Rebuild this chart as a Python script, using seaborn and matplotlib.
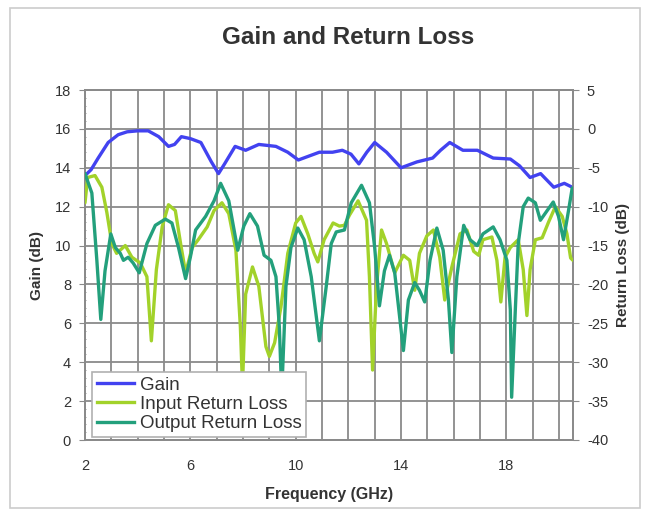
import numpy as np
import pandas as pd
import matplotlib
matplotlib.use("Agg")
import matplotlib.pyplot as plt
from matplotlib.patches import Rectangle
from matplotlib.lines import Line2D
from matplotlib.ticker import MultipleLocator
import seaborn as sns

# ---------------- data ----------------
gain_freq = [2.0, 2.23, 2.5, 2.88, 3.26, 3.6, 4.0, 4.4, 4.8, 5.17, 5.4, 5.66, 6.0, 6.4, 6.8,
             7.07, 7.3, 7.7, 8.1, 8.6, 9.25, 9.7, 10.1, 10.5, 10.9, 11.4, 11.77, 12.1, 12.4,
             12.7, 13.0, 13.45, 14.0, 14.6, 15.2, 15.5, 15.85, 16.35, 16.9, 17.5, 18.15,
             18.5, 18.9, 19.3, 19.8, 20.2, 20.5]
gain_db = [13.6, 13.9, 14.5, 15.3, 15.7, 15.85, 15.9, 15.9, 15.6, 15.1, 15.2, 15.6, 15.5, 15.3, 14.3,
           13.7, 14.2, 15.1, 14.9, 15.2, 15.1, 14.8, 14.4, 14.6, 14.8, 14.8, 14.9, 14.7, 14.2,
           14.8, 15.3, 14.8, 14.0, 14.3, 14.5, 14.9, 15.3, 14.9, 14.9, 14.5, 14.45,
           14.1, 13.5, 13.7, 13.0, 13.2, 13.0]

in_freq = [2.0, 2.1, 2.38, 2.64, 2.83, 3.02, 3.2, 3.53, 3.78, 4.1, 4.35, 4.52, 4.71, 4.93, 5.17,
           5.43, 5.63, 5.82, 6.07, 6.3, 6.64, 6.9, 7.2, 7.46, 7.73, 7.9, 7.98, 8.1, 8.36, 8.6,
           8.87, 9.0, 9.2, 9.44, 9.7, 10.0, 10.2, 10.46, 10.7, 10.84, 11.08, 11.42, 11.66,
           11.85, 12.04, 12.37, 12.69, 12.8, 12.92, 13.07, 13.26, 13.45, 13.76, 14.09, 14.33,
           14.52, 14.7, 14.98, 15.23, 15.47, 15.66, 15.93, 16.24, 16.5, 16.76, 16.95, 17.11,
           17.45, 17.64, 17.79, 17.95, 18.15, 18.45, 18.64, 18.78, 18.9, 19.1, 19.36, 19.6,
           19.86, 20.12, 20.3, 20.44, 20.53]
in_rl = [-9.5, -6.25, -6.0, -7.5, -10.75, -14.75, -16.0, -15.0, -16.5, -17.25, -19.0, -27.25,
         -18.1, -12.6, -9.75, -10.5, -14.75, -18.5, -15.25, -14.25, -12.6, -10.5, -9.5, -10.9,
         -15.6, -25.5, -33.0, -21.25, -17.75, -20.25, -28.0, -29.25, -27.5, -22.9, -16.0,
         -12.1, -11.25, -13.5, -16.0, -17.1, -14.25, -12.1, -12.5, -12.4, -11.1, -9.25,
         -11.75, -19.0, -31.0, -20.25, -13.0, -14.75, -18.5, -16.25, -16.9, -20.75, -16.0,
         -13.75, -13.0, -16.5, -22.0, -17.75, -13.5, -13.0, -15.75, -16.25, -14.25, -13.9,
         -16.9, -22.25, -16.5, -15.25, -14.25, -18.1, -24.0, -18.1, -14.25, -14.0, -12.0,
         -10.0, -11.25, -13.5, -16.6, -16.9]

out_freq = [2.0, 2.26, 2.45, 2.6, 2.76, 2.98, 3.15, 3.34, 3.46, 3.64, 3.83, 4.06, 4.35, 4.67,
            5.05, 5.3, 5.55, 5.82, 6.0, 6.2, 6.58, 6.9, 7.15, 7.46, 7.8, 8.03, 8.26, 8.55, 8.8,
            9.06, 9.25, 9.38, 9.47, 9.63, 9.82, 10.08, 10.32, 10.59, 10.9, 11.16, 11.35,
            11.54, 11.85, 12.11, 12.5, 12.8, 13.0, 13.18, 13.37, 13.56, 13.76, 14.09, 14.28,
            14.52, 14.7, 14.9, 15.1, 15.36, 15.6, 15.8, 15.93, 16.12, 16.38, 16.62, 16.89,
            17.11, 17.5, 17.76, 18.02, 18.15, 18.2, 18.34, 18.45, 18.64, 18.83, 19.1, 19.29,
            19.55, 19.78, 19.98, 20.17, 20.36, 20.5]
out_rl = [-5.75, -8.25, -16.9, -24.5, -18.25, -13.5, -15.25, -16.0, -16.9, -16.5, -17.25, -18.5,
          -14.75, -12.4, -11.6, -12.1, -15.25, -19.25, -16.5, -13.0, -11.25, -9.25, -7.0, -9.25,
          -15.6, -12.5, -10.9, -12.5, -16.25, -16.9, -19.0, -25.5, -34.0, -20.25, -15.25,
          -12.75, -14.25, -19.0, -27.25, -20.25, -14.75, -13.25, -13.0, -9.5, -7.25, -9.5,
          -15.25, -22.75, -18.25, -16.25, -18.5, -28.5, -22.0, -19.75, -20.75, -22.25, -16.9,
          -12.75, -15.6, -22.0, -28.75, -19.0, -12.4, -14.25, -15.0, -13.5, -12.6, -14.25,
          -16.9, -23.25, -34.5, -23.25, -14.75, -10.0, -8.9, -9.5, -11.75, -10.5, -9.4,
          -11.25, -14.25, -10.5, -7.6]

x_ticks = [2, 6, 10, 14, 18]
gain_ticks = list(range(0, 19, 2))
rl_ticks = list(range(-40, 6, 5))

gain_df = pd.DataFrame({"freq": gain_freq, "val": gain_db})
in_df = pd.DataFrame({"freq": in_freq, "val": in_rl})
out_df = pd.DataFrame({"freq": out_freq, "val": out_rl})

# ---------------- style ----------------
plt.rcParams["font.family"] = ["Liberation Sans", "DejaVu Sans"]
plt.rcParams["axes.unicode_minus"] = False
C_GAIN = "#4242f0"
C_IN = "#a2d22a"
C_OUT = "#23a07c"
GRID = "#8a8a8a"
TXT = "#333333"
LW = 2.4

fig = plt.figure(figsize=(6.45, 5.18), dpi=100)
fig.patch.set_facecolor("white")
fig.patches.append(Rectangle((10 / 645, 1 - 508 / 518), 630 / 645, 500 / 518,
                             transform=fig.transFigure, fill=False,
                             edgecolor="#cccccc", linewidth=1.2))

ax = fig.add_axes([85 / 645, 1 - 440 / 518, 488 / 645, 350 / 518])
ax2 = ax.twinx()

line_kw = dict(linewidth=LW, estimator=None, sort=False, zorder=3,
               solid_joinstyle="round", solid_capstyle="round")
sns.lineplot(data=gain_df, x="freq", y="val", ax=ax, color=C_GAIN, **line_kw)
sns.lineplot(data=in_df, x="freq", y="val", ax=ax2, color=C_IN, **line_kw)
sns.lineplot(data=out_df, x="freq", y="val", ax=ax2, color=C_OUT, **line_kw)

ax.set_xlim(2, 20.53)
ax.set_ylim(0, 18)
ax2.set_ylim(-40, 5)

ax.set_xticks(x_ticks)
ax.xaxis.set_minor_locator(MultipleLocator(1))
ax.set_yticks(gain_ticks)
ax.yaxis.set_minor_locator(MultipleLocator(0.4))
ax2.set_yticks(rl_ticks)

ax.grid(True, which="major", axis="both", color=GRID, linewidth=1.3, zorder=0)
ax.grid(True, which="minor", axis="x", color=GRID, linewidth=1.3, zorder=0)
ax.set_axisbelow(True)

for a in (ax, ax2):
    for s in a.spines.values():
        s.set_color(GRID)
        s.set_linewidth(1.3)

ax.tick_params(axis="x", which="major", length=0, pad=14, labelsize=10.5, labelcolor=TXT)
ax.tick_params(axis="x", which="minor", length=0)
ax.tick_params(axis="y", which="major", length=4, color=GRID, pad=6, labelsize=10.5, labelcolor=TXT)
ax.tick_params(axis="y", which="minor", length=2, color=GRID, direction="inout")
ax2.tick_params(axis="y", which="major", length=4, color=GRID, pad=6, labelsize=10.5, labelcolor=TXT)

ax.set_xlabel("Frequency (GHz)", fontsize=11.5, fontweight="bold", color=TXT, labelpad=10)
ax.set_ylabel("Gain (dB)", fontsize=11, fontweight="bold", color=TXT, labelpad=8)
ax2.set_ylabel("Return Loss (dB)", fontsize=11, fontweight="bold", color=TXT,
               rotation=90, labelpad=6)

fig.text(348 / 645, 1 - 37 / 518, "Gain and Return Loss", ha="center", va="center",
         fontsize=17.5, fontweight="bold", color=TXT)

handles = [Line2D([], [], color=C_GAIN, linewidth=LW),
           Line2D([], [], color=C_IN, linewidth=LW),
           Line2D([], [], color=C_OUT, linewidth=LW)]
leg = ax2.legend(handles, ["Gain", "Input Return Loss", "Output Return Loss"],
                 loc="lower left", bbox_to_anchor=(0.0143, 0.0086), fontsize=13.5,
                 frameon=True, fancybox=False, framealpha=1, edgecolor="#b0b0b0",
                 handlelength=2.0, handletextpad=0.3, labelspacing=0.12,
                 borderpad=0.25, borderaxespad=0)
leg.get_frame().set_linewidth(1.2)
for t in leg.get_texts():
    t.set_color(TXT)
leg.set_zorder(10)

fig.savefig("out.png", dpi=100)
